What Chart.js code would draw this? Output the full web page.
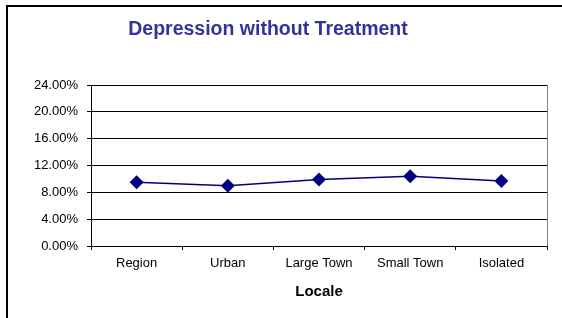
<!DOCTYPE html>
<html>
<head>
<meta charset="utf-8">
<script src="https://cdn.jsdelivr.net/npm/chart.js@4.4.1/dist/chart.umd.min.js"></script>
<style>
  html, body { margin: 0; padding: 0; background: #fff; }
  #wrap { width: 562px; height: 318px; position: relative; }
</style>
</head>
<body>
<div id="wrap"><canvas id="myChart" width="562" height="318"></canvas></div>
<script>
// datos
var locales = ["Region", "Urban", "Large Town", "Small Town", "Isolated"];
var porcentajes = [9.5, 9.0, 9.9, 10.4, 9.7];
var ticksY = [0, 4, 8, 12, 16, 20, 24];

// marco exterior (linea arriba e izquierda)
var marco = {
    id: 'marco',
    afterDraw: function(chart) {
        var ctx = chart.ctx;
        ctx.save();
        ctx.strokeStyle = '#000';
        ctx.lineWidth = 2;
        ctx.beginPath();
        ctx.moveTo(7, 318);
        ctx.lineTo(7, 6);
        ctx.lineTo(562, 6);
        ctx.stroke();
        ctx.restore();
    }
};

var canvas = document.getElementById('myChart').getContext("2d");
window.graf = new Chart(canvas, {
    type: "line",
    data: {
        labels: locales,
        datasets: [{
            label: "Depression without Treatment",
            data: porcentajes,
            borderColor: "#000080",
            backgroundColor: "#000080",
            borderWidth: 1.5,
            pointStyle: "rectRot",
            pointRadius: 7,
            pointHoverRadius: 7,
            pointBorderWidth: 0,
            fill: false,
            tension: 0
        }]
    },
    options: {
        responsive: false,
        animation: false,
        events: [],
        // padding izquierdo negativo para centrar el titulo como en la imagen
        layout: { padding: { left: -11, right: 15, top: 0, bottom: 0 } },
        plugins: {
            legend: { display: false },
            tooltip: { enabled: false },
            title: {
                display: true,
                text: "Depression without Treatment",
                color: "#333399",
                font: { family: "'Liberation Sans', Arial, sans-serif", size: 19.5, weight: "bold", lineHeight: 1.2 },
                padding: { top: 17.5, bottom: 44.1 }
            }
        },
        scales: {
            x: {
                offset: true,
                grid: {
                    display: true,
                    offset: true,
                    drawOnChartArea: false,
                    drawTicks: true,
                    tickLength: 4,
                    color: "#000"
                },
                border: { display: true, color: "#000", width: 1 },
                ticks: {
                    color: "#000",
                    padding: 6,
                    maxRotation: 0,
                    font: { family: "'Liberation Sans', Arial, sans-serif", size: 13 }
                },
                title: {
                    display: true,
                    text: "Locale",
                    color: "#000",
                    font: { family: "'Liberation Sans', Arial, sans-serif", size: 15, weight: "bold", lineHeight: 1.2 },
                    padding: { top: 0, bottom: 17 }
                },
                afterFit: function(scale) { scale.height = 72; }
            },
            y: {
                min: 0,
                max: 24,
                afterBuildTicks: function(scale) {
                    scale.ticks = ticksY.map(function(v) { return { value: v }; });
                },
                grid: {
                    color: "#000",
                    lineWidth: 1,
                    tickLength: 4,
                    drawTicks: true
                },
                border: { display: true, color: "#000", width: 1 },
                ticks: {
                    color: "#000",
                    padding: 9,
                    font: { family: "'Liberation Sans', Arial, sans-serif", size: 13 },
                    callback: function(v) { return v.toFixed(2) + "%"; }
                },
                afterFit: function(scale) { scale.width = 102; }
            }
        }
    },
    plugins: [marco, {
        // borde derecho gris del area del grafico
        id: 'bordeDerecho',
        afterDatasetsDraw: function(chart) {
            var a = chart.chartArea, ctx = chart.ctx;
            ctx.save();
            ctx.strokeStyle = '#808080';
            ctx.lineWidth = 1;
            ctx.beginPath();
            ctx.moveTo(a.right + 0.5, a.top);
            ctx.lineTo(a.right + 0.5, a.bottom);
            ctx.stroke();
            ctx.restore();
        }
    }]
});
</script>
</body>
</html>
